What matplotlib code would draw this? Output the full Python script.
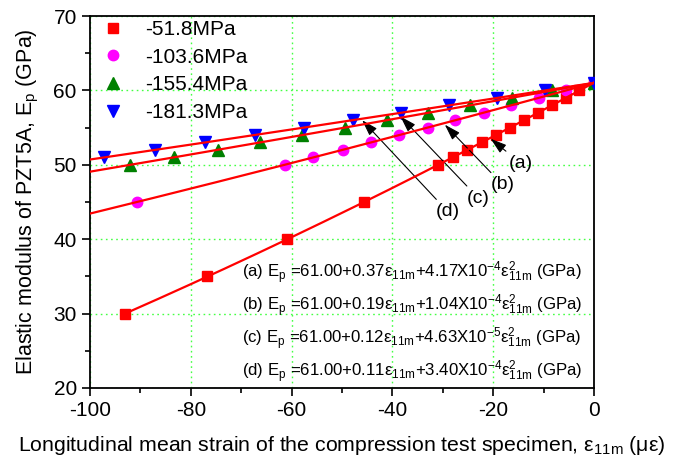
import numpy as np
import matplotlib.pyplot as plt

plt.rcParams['font.family'] = ['Liberation Sans', 'DejaVu Sans']
plt.rcParams['mathtext.fontset'] = 'custom'
plt.rcParams['mathtext.rm'] = 'Liberation Sans'
plt.rcParams['mathtext.it'] = 'Liberation Sans:italic'
plt.rcParams['axes.unicode_minus'] = False

# data
labels = ['-51.8MPa', '-103.6MPa', '-155.4MPa', '-181.3MPa']
xa = [-93.0, -76.7, -60.9, -45.6, -30.9, -27.9, -25.1, -22.3, -19.5, -16.7,
      -13.9, -11.1, -8.4, -5.6, -2.9, 0.0]
ya = [30, 35, 40, 45, 50, 51, 52, 53, 54, 55, 56, 57, 58, 59, 60, 61]
xb = [-90.7, -61.4, -55.7, -49.9, -44.2, -38.6, -33.0, -27.5, -21.9, -16.5,
      -11.0, -5.5, 0.0]
yb = [45, 50, 51, 52, 53, 54, 55, 56, 57, 58, 59, 60, 61]
xc = [-92.1, -83.3, -74.7, -66.3, -57.9, -49.4, -41.0, -32.9, -24.6, -16.3,
      -8.3, 0.0]
yc = [50, 51, 52, 53, 54, 55, 56, 57, 58, 59, 60, 61]
xd = [-97.2, -87.1, -77.2, -67.3, -57.5, -47.8, -38.2, -28.8, -19.2, -9.7, 0.0]
yd = [51, 52, 53, 54, 55, 56, 57, 58, 59, 60, 61]

eqs = ['(a) E$_\\mathrm{p}$ =61.00+0.37ε$_\\mathrm{11m}$+4.17X10$^\\mathrm{-4}$ε$^\\mathrm{2}_\\mathrm{11m}$ (GPa)',
       '(b) E$_\\mathrm{p}$ =61.00+0.19ε$_\\mathrm{11m}$+1.04X10$^\\mathrm{-4}$ε$^\\mathrm{2}_\\mathrm{11m}$ (GPa)',
       '(c) E$_\\mathrm{p}$ =61.00+0.12ε$_\\mathrm{11m}$+4.63X10$^\\mathrm{-5}$ε$^\\mathrm{2}_\\mathrm{11m}$ (GPa)',
       '(d) E$_\\mathrm{p}$ =61.00+0.11ε$_\\mathrm{11m}$+3.40X10$^\\mathrm{-4}$ε$^\\mathrm{2}_\\mathrm{11m}$ (GPa)']

fig = plt.figure(figsize=(6.81, 4.63), dpi=100)
ax = fig.add_axes([0.1322, 0.162, 0.74, 0.8034])

series = [(xa, ya, 's', 'red', 7), (xb, yb, 'o', 'magenta', 7.5),
          (xc, yc, '^', 'green', 8), (xd, yd, 'v', 'blue', 8)]
for i, (x, y, m, c, ms) in enumerate(series):
    ax.plot(x, y, m, color=c, ms=ms, mec=c, label=labels[i], zorder=3)
    p = np.polyfit(x, y, 2)
    xs = np.linspace(min(x) if i == 0 else -100, 0, 200)
    ax.plot(xs, np.polyval(p, xs), '-', color='red', lw=1.6, zorder=4)

# arrows to the fit lines
arr = dict(arrowstyle='-|>,head_length=0.7,head_width=0.22', color='black',
           lw=0.8, shrinkA=1, shrinkB=0)
ax.annotate('(a)', xy=(-20.5, 53.5), xytext=(-14.5, 50.2), fontsize=14,
            ha='center', va='center', arrowprops=arr)
ax.annotate('(b)', xy=(-29.6, 55.4), xytext=(-18.1, 47.3), fontsize=14,
            ha='center', va='center', arrowprops=arr)
ax.annotate('(c)', xy=(-38.4, 56.5), xytext=(-22.9, 45.5), fontsize=14,
            ha='center', va='center', arrowprops=arr)
ax.annotate('(d)', xy=(-46.0, 56.0), xytext=(-29.0, 43.7), fontsize=14,
            ha='center', va='center', arrowprops=arr)

for k, e in enumerate(eqs):
    ax.text(-69.8, 35.5 - 4.43 * k, e, fontsize=12.05, ha='left', va='center')

ax.set_xlim(-100, 0)
ax.set_ylim(20, 70)
ax.set_xticks([-100, -80, -60, -40, -20, 0])
ax.set_yticks([20, 30, 40, 50, 60, 70])
ax.set_xticks(np.arange(-90, 0, 20), minor=True)
ax.set_yticks(np.arange(25, 70, 10), minor=True)
ax.tick_params(which='major', direction='out', length=6, width=1.2, labelsize=15)
ax.tick_params(which='minor', direction='out', length=3.5, width=1.2)
for s in ax.spines.values():
    s.set_linewidth(1.3)
ax.grid(True, which='major', color='#44ff44', ls=(0, (1.2, 2.5)), lw=1)
for gl in ax.get_xgridlines() + ax.get_ygridlines():
    gl.set_zorder(0)

ax.set_xlabel('Longitudinal mean strain of the compression test specimen, ε$_\\mathrm{11m}$ (με)',
              fontsize=15.3, labelpad=10)
ax.set_ylabel('Elastic modulus of PZT5A, E$_\\mathrm{p}$ (GPa)', fontsize=15.5, labelpad=9)

ax.legend(loc='upper left', frameon=False, fontsize=15, handletextpad=0.9,
          labelspacing=0.42, borderaxespad=0.0, handlelength=1.2,
          bbox_to_anchor=(0.005, 1.012))

fig.savefig('out.png', dpi=100)
